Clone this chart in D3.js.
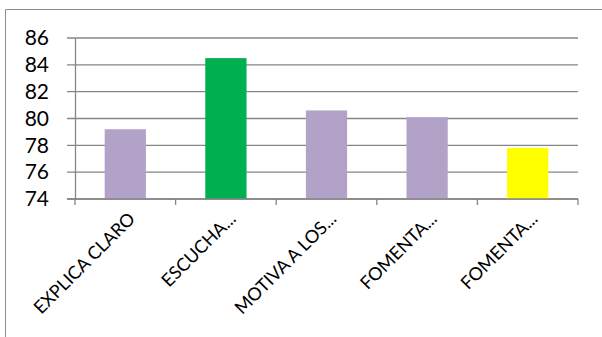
<!DOCTYPE html>
<html><head><meta charset="utf-8">
<script src="https://cdn.jsdelivr.net/npm/d3@7"></script>
<style>body{margin:0;background:#fff}svg{display:block}</style>
</head><body>
<script>
const categories = ["EXPLICA CLARO","ESCUCHA...","MOTIVA A LOS...","FOMENTA...","FOMENTA..."];
const values = [79.2, 84.5, 80.6, 80.1, 77.8];
const barColors = ["#B3A2C7","#00B050","#B3A2C7","#B3A2C7","#FFFF00"];
const yTicks = [74,76,78,80,82,84,86];

const W=602,H=337;
const svg=d3.select("body").append("svg").attr("width",W).attr("height",H);
svg.append("rect").attr("width",W).attr("height",H).attr("fill","#fff");
// outer frame
svg.append("path").attr("d","M5.5,"+H+"V9.5H"+W).attr("fill","none").attr("stroke","#8c8c8c").attr("stroke-width",1);

const x=d3.scaleBand().domain(d3.range(categories.length)).range([75,578]).paddingInner(0.59).paddingOuter(0.295);
const y=d3.scaleLinear().domain([74,86]).range([199,38]);
const grey="#868686";

// gridlines
svg.append("g").selectAll("line").data(yTicks).join("line")
 .attr("x1",67).attr("x2",578).attr("y1",d=>y(d)).attr("y2",d=>y(d))
 .attr("stroke",grey).attr("stroke-width",1.3);

// bars
svg.append("g").selectAll("rect").data(values).join("rect")
 .attr("x",(d,i)=>x(i)).attr("width",x.bandwidth())
 .attr("y",d=>y(d)).attr("height",d=>y(74)-y(d)).attr("fill",(d,i)=>barColors[i]);

// y axis
const yAxis=svg.append("g").attr("transform","translate(75,0)")
 .call(d3.axisLeft(y).tickValues(yTicks).tickSize(0).tickPadding(26));
yAxis.select(".domain").attr("stroke",grey).attr("stroke-width",1.3);
yAxis.selectAll("text").attr("font-family","Lato, 'Open Sans', sans-serif").attr("font-size",21).attr("fill","#000");

// x axis
const xAxis=svg.append("g").attr("transform","translate(0,199)");
xAxis.append("line").attr("x1",67).attr("x2",578).attr("stroke",grey).attr("stroke-width",1.3);
const tickPos=d3.range(categories.length+1).map(i=>75+i*(503/categories.length));
xAxis.selectAll("line.t").data(tickPos).join("line").attr("class","t")
 .attr("x1",d=>d).attr("x2",d=>d).attr("y1",0).attr("y2",6).attr("stroke",grey).attr("stroke-width",1.3);
xAxis.selectAll("text").data(categories).join("text")
 .attr("transform",(d,i)=>`translate(${x(i)+x.bandwidth()/2+11},${21}) rotate(-45)`)
 .attr("text-anchor","end")
 .attr("font-family","Lato, 'Open Sans', sans-serif").attr("font-size",18).attr("fill","#000")
 .text(d=>d);
</script>
</body></html>
